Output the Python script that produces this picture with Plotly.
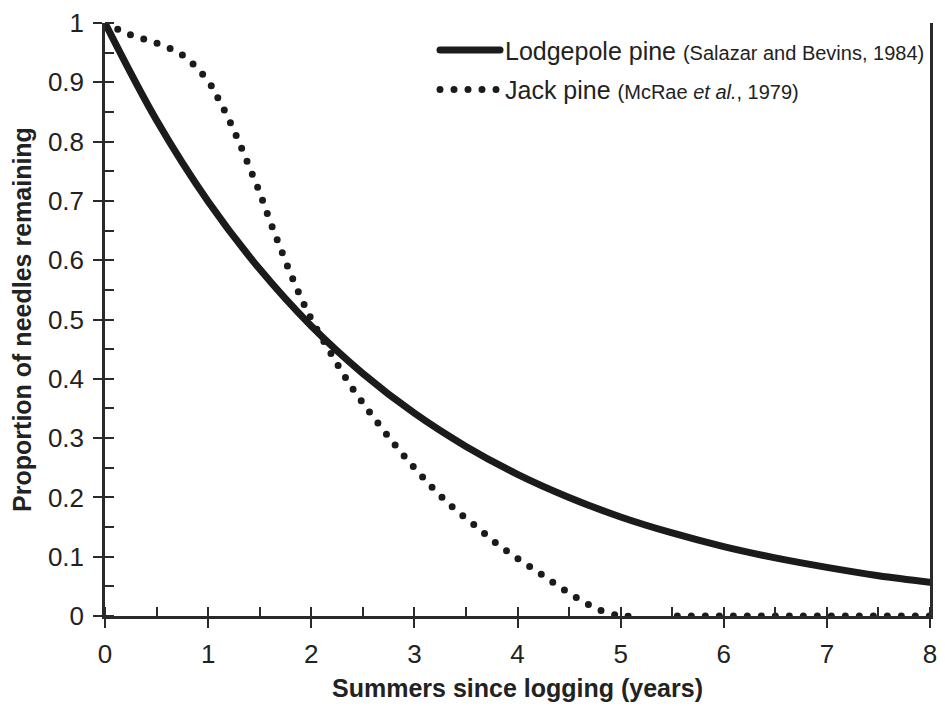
import plotly.graph_objects as go

# Lodgepole pine (solid curve)
years = [0, 0.5, 1, 1.5, 2, 2.5, 3, 3.5, 4, 4.5, 5, 5.5, 6, 6.5, 7, 7.5, 8]
lodgepole = [1.000, 0.836, 0.699, 0.585, 0.489, 0.409, 0.342, 0.286, 0.239,
             0.200, 0.167, 0.140, 0.117, 0.098, 0.082, 0.068, 0.057]

# Jack pine (dotted curve); None marks the stretch hidden on the x axis
jack_years = [0, 0.25, 0.5, 0.75, 1.0, 1.1, 1.2, 1.3, 1.4, 1.5, 1.6, 1.7, 1.8,
              1.9, 2.0, 2.2, 2.4, 2.6, 2.8, 3.0, 3.2, 3.4, 3.6, 3.8, 4.0, 4.2,
              4.4, 4.6, 4.8, 5.0, 5.1, 5.3, 5.55, 8]
jack = [1.0, 0.98, 0.966, 0.946, 0.902, 0.872, 0.838, 0.799, 0.757, 0.714,
        0.666, 0.621, 0.577, 0.537, 0.501, 0.440, 0.384, 0.336, 0.291, 0.250,
        0.212, 0.179, 0.151, 0.122, 0.097, 0.074, 0.050, 0.028, 0.010, 0.0,
        0.0, None, 0.0, 0.0]

FONT = "Liberation Sans, Arial, sans-serif"
INK = "#1b1b1b"
AXIS = "#2a2a2a"

fig = go.Figure()
fig.add_trace(go.Scatter(
    x=years, y=lodgepole, mode="lines", legendgroup="a",
    name="Lodgepole pine <span style='font-size:20px'>(Salazar and Bevins, 1984)</span>",
    line=dict(color=INK, width=7, shape="spline")))
fig.add_trace(go.Scatter(
    x=jack_years, y=jack, mode="lines", legendgroup="b",
    name="Jack pine <span style='font-size:20px'>(McRae <i>et al.</i>, 1979)</span>",
    line=dict(color=INK, width=7, dash="0px,14px", shape="spline")))

axis_common = dict(
    showgrid=False, zeroline=False, showline=True, linecolor=AXIS, linewidth=2.5,
    ticks="outside", ticklen=9, tickwidth=2, tickcolor=AXIS,
    tickfont=dict(size=26, color="#222", family=FONT), ticklabelstandoff=4,
)
# inside half of the major ticks, so they cross the axis line
inner_ticks = dict(showgrid=False, zeroline=False, showline=False, showticklabels=False,
                   ticks="inside", ticklen=9, tickwidth=2, tickcolor=AXIS)

fig.update_layout(
    width=945, height=706,
    paper_bgcolor="white", plot_bgcolor="white",
    font=dict(family=FONT, color="#222"),
    margin=dict(l=105, r=8, t=22, b=89),
    xaxis=dict(range=[0, 8], dtick=1,
               title=dict(text="<b>Summers since logging (years)</b>",
                          font=dict(size=25), standoff=12),
               minor=dict(dtick=0.5, ticks="inside", ticklen=9, tickwidth=2, tickcolor=AXIS),
               **axis_common),
    yaxis=dict(range=[0, 1], dtick=0.1, mirror=True,
               title=dict(text="<b>Proportion of needles remaining</b>",
                          font=dict(size=25), standoff=10),
               minor=dict(dtick=0.05, ticks="inside", ticklen=9, tickwidth=2, tickcolor=AXIS),
               **axis_common),
    xaxis2=dict(overlaying="x", matches="x", anchor="y", range=[0, 8], dtick=1, **inner_ticks),
    yaxis2=dict(overlaying="y", matches="y", anchor="x", range=[0, 1], dtick=0.1, **inner_ticks),
    legend=dict(x=1, xanchor="right", y=0.993, yanchor="top", bgcolor="rgba(0,0,0,0)",
                font=dict(size=25, family=FONT, color="#222"),
                itemwidth=60, tracegroupgap=4),
)

# zero page margin; round caps turn the zero-length dashes into round dots
page_fix = ("document.body.style.margin='0';"
            "var s=document.createElement('style');"
            "s.textContent='.js-line{stroke-linecap:round}';"
            "document.head.appendChild(s);")
fig.write_html("out.html", post_script=page_fix, config={"displayModeBar": False})
